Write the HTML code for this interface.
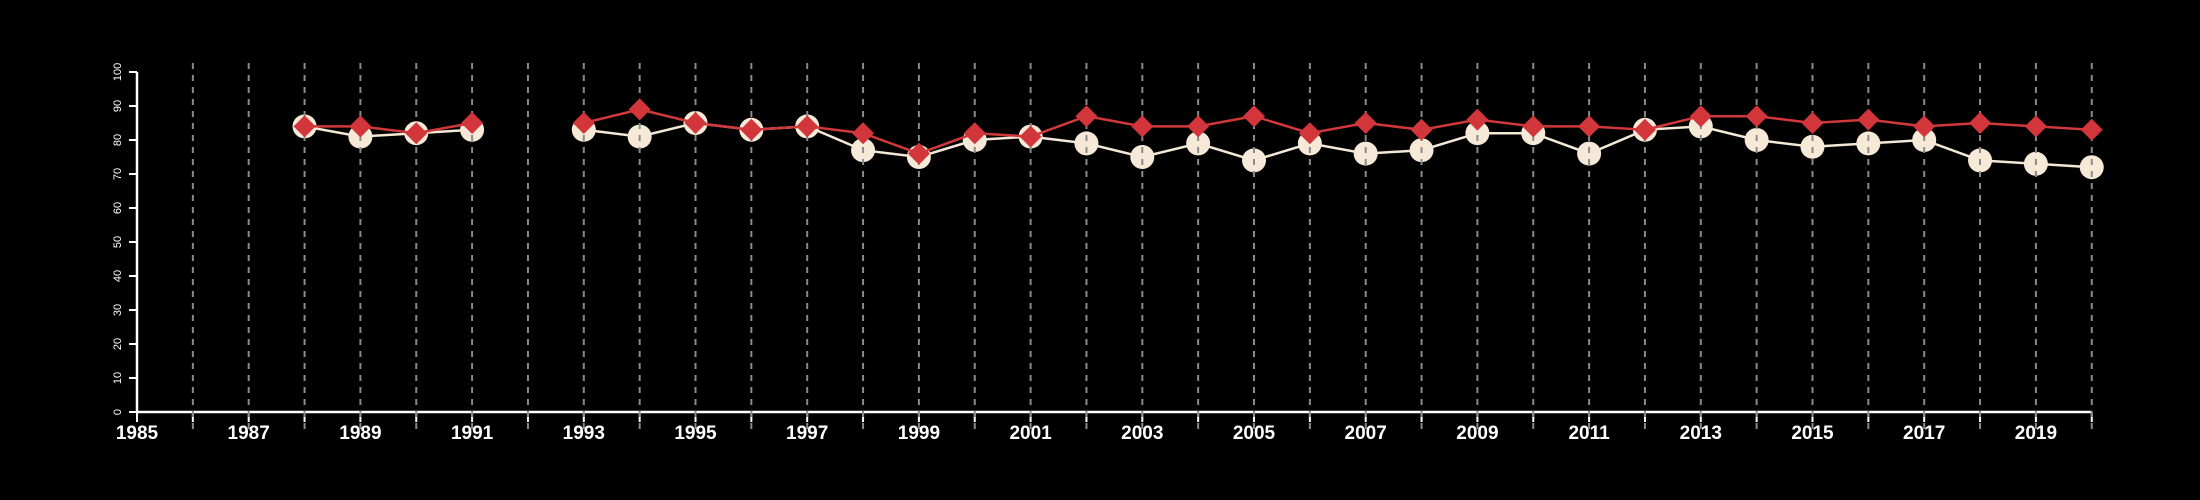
<!DOCTYPE html>
<html><head><meta charset="utf-8"><style>
html,body{margin:0;padding:0;background:#000;}
svg{display:block;}
text{font-family:"Liberation Sans",sans-serif;fill:#fff;}
</style></head><body>
<svg id="chart" width="2200" height="500" viewBox="0 0 2200 500" xmlns="http://www.w3.org/2000/svg">
<rect width="2200" height="500" fill="#000"/>
</svg>
<script>
const years = [1988,1989,1990,1991,1992,1993,1994,1995,1996,1997,1998,1999,2000,2001,2002,2003,2004,2005,2006,2007,2008,2009,2010,2011,2012,2013,2014,2015,2016,2017,2018,2019,2020];
const seriesCream = [84,81,82,83,null,83,81,85,83,84,77,75,80,81,79,75,79,74,79,76,77,82,82,76,83,84,80,78,79,80,74,73,72];
const seriesRed = [84,84,82,85,null,85,89,85,83,84,82,76,82,81,87,84,84,87,82,85,83,86,84,84,83,87,87,85,86,84,85,84,83];
const yTicks = [0,10,20,30,40,50,60,70,80,90,100];
const xLabels = [1985,1987,1989,1991,1993,1995,1997,1999,2001,2003,2005,2007,2009,2011,2013,2015,2017,2019];

const NS="http://www.w3.org/2000/svg";
const svg=document.getElementById('chart');
const X0=137, XSTEP=55.85, Y0=412, YPX=3.4;
const xs=y=>X0+(y-1985)*XSTEP;
const ys=v=>Y0-v*YPX;
function mk(tag,attrs,parent){const e=document.createElementNS(NS,tag);for(const k in attrs)e.setAttribute(k,attrs[k]);(parent||svg).appendChild(e);return e;}

// axes
const yAxis=mk('line',{x1:X0,y1:ys(100),x2:X0,y2:Y0,stroke:'#fff','stroke-width':2.5});


const xAxis=mk('line',{x1:X0,y1:Y0,x2:xs(2020),y2:Y0,stroke:'#fff','stroke-width':2.5});


yTicks.forEach(t=>{
  const l=mk('line',{x1:X0-8,y1:ys(t),x2:X0,y2:ys(t),stroke:'#fff','stroke-width':2});
  
  
  const tx=mk('text',{x:0,y:0,'font-size':11,'text-anchor':'middle',transform:`translate(${X0-16},${ys(t)}) rotate(-90)`});
  
  
  tx.textContent=t;
});
for(let yr=1985;yr<=2020;yr++){
  const l=mk('line',{x1:xs(yr),y1:Y0,x2:xs(yr),y2:Y0+10,stroke:'#fff','stroke-width':2});
  
  
}
xLabels.forEach(yr=>{
  const tx=mk('text',{x:xs(yr),y:439,'font-size':19,'font-weight':'bold','text-anchor':'middle'});
  
  
  tx.textContent=yr;
});

function segs(vals){const out=[];let cur=[];vals.forEach((v,i)=>{if(v==null){if(cur.length)out.push(cur);cur=[];}else cur.push([xs(years[i]),ys(v)]);});if(cur.length)out.push(cur);return out;}

// cream series
segs(seriesCream).forEach(s=>{
  const p=mk('polyline',{points:s.map(p=>p.join(',')).join(' '),fill:'none',stroke:'#f5e8d6','stroke-width':2.5});
  
  
});
seriesCream.forEach((v,i)=>{if(v==null)return;
  const c=mk('circle',{cx:xs(years[i]),cy:ys(v),r:12,fill:'#f7e9d7'});
  
  
});
// grid
for(let yr=1986;yr<=2020;yr++){
  const g=mk('line',{x1:xs(yr),y1:63,x2:xs(yr),y2:430,stroke:'#8a8a8a','stroke-width':2,'stroke-dasharray':'6,6'});
  
  
}
// red series
segs(seriesRed).forEach(s=>{
  const p=mk('polyline',{points:s.map(p=>p.join(',')).join(' '),fill:'none',stroke:'#d0383a','stroke-width':2.5});
  
  
});
seriesRed.forEach((v,i)=>{if(v==null)return;
  const x=xs(years[i]),y=ys(v),d=11;
  const p=mk('polygon',{points:`${x},${y-d} ${x+d},${y} ${x},${y+d} ${x-d},${y}`,fill:'#d2363a'});
  
  
});
</script>
</body></html>
